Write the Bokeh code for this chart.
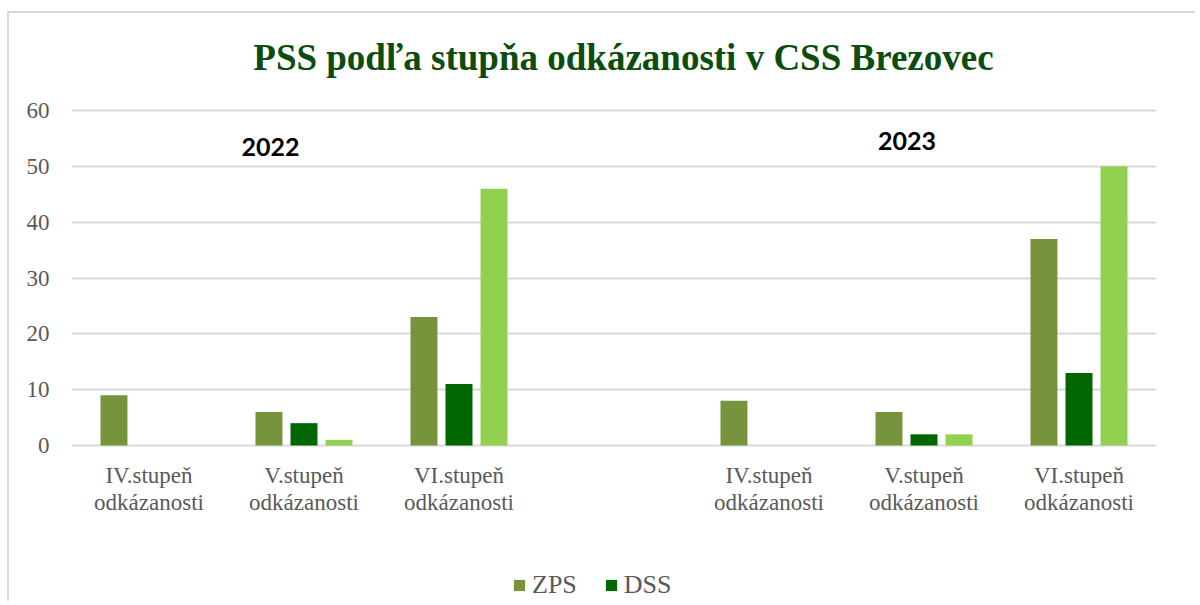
from bokeh.plotting import figure
from bokeh.models import FixedTicker, Label, Legend, LegendItem, Range1d
from bokeh.embed import file_html
from bokeh.resources import INLINE

# ---- data ----
title_text = "PSS podľa stupňa odkázanosti v CSS Brezovec"
grade_labels = ["IV.stupeň\nodkázanosti", "V.stupeň\nodkázanosti", "VI.stupeň\nodkázanosti"]
years = ["2022", "2023"]
zps_2022 = [9, 6, 23]
dss_2022 = [0, 4, 11]
third_2022 = [0, 1, 46]
zps_2023 = [8, 6, 37]
dss_2023 = [0, 2, 13]
third_2023 = [0, 2, 50]
y_ticks = [0, 10, 20, 30, 40, 50, 60]

ZPS_C = "#77933C"
DSS_C = "#006600"
THIRD_C = "#92D050"
TXT = "#595959"
SERIF = "Liberation Serif"

# slots: 3 groups for 2022, an empty slot, 3 groups for 2023
slots = [i + 0.5 for i in range(3)] + [i + 4.5 for i in range(3)]
zps = zps_2022 + zps_2023
dss = dss_2022 + dss_2023
third = third_2022 + third_2023

# layout (pixels): value axis spans 335 px for 0..60; the frame continues 97 px above 60
# (title area) and 155 px below 0 (category labels and legend)
Y_MAX = 60
PX = 335 / Y_MAX
y_top = Y_MAX + 97 / PX
y_min = -155 / PX

p = figure(width=1188, height=590, output_backend="svg", toolbar_location=None,
           x_range=Range1d(0, 7), y_range=Range1d(y_min, y_top),
           min_border_left=62, min_border_right=41, min_border_top=0, min_border_bottom=3)
p.styles = {"border-left": "2px solid #d9d9d9", "border-top": "2px solid #d9d9d9",
            "margin-top": "11px", "margin-left": "7px"}

p.outline_line_color = None
p.background_fill_color = "white"
p.border_fill_color = "white"

w = 0.174
off = 0.226
r1 = p.vbar(x=[s - off for s in slots], top=zps, width=w, fill_color=ZPS_C, line_color=None)
r2 = p.vbar(x=slots, top=dss, width=w, fill_color=DSS_C, line_color=None)
r3 = p.vbar(x=[s + off for s in slots], top=third, width=w, fill_color=THIRD_C, line_color=None)

# axes
p.xaxis.ticker = FixedTicker(ticks=slots)
p.xaxis.major_label_overrides = {s: lab for s, lab in zip(slots, grade_labels + grade_labels)}
p.xaxis.fixed_location = 0
p.yaxis.ticker = FixedTicker(ticks=y_ticks)
for ax in (p.xaxis, p.yaxis):
    ax.axis_line_color = None
    ax.major_tick_line_color = None
    ax.minor_tick_line_color = None
    ax.major_label_text_font = SERIF
    ax.major_label_text_font_size = "23px"
    ax.major_label_text_color = TXT
    ax.major_label_text_line_height = 1.08
p.yaxis.major_label_standoff = 16
p.xaxis.major_label_standoff = 11

p.xgrid.grid_line_color = None
p.ygrid.grid_line_color = "#d9d9d9"
p.ygrid.grid_line_width = 2

# chart title
p.add_layout(Label(x=3.561, y=69.5, text=title_text, text_font=SERIF, text_font_style="bold",
                   text_font_size="37px", text_color="#0B4D0E",
                   text_align="center", text_baseline="middle"))

# year labels
for yr, xx, yy in zip(years, [1.284, 5.39], [53.4, 54.6]):
    p.add_layout(Label(x=xx, y=yy, text=yr, text_font="Lato", text_font_style="bold",
                       text_font_size="25px", text_color="black",
                       text_align="center", text_baseline="middle"))

legend = Legend(items=[LegendItem(label="ZPS", renderers=[r1]),
                       LegendItem(label="DSS", renderers=[r2])],
                orientation="horizontal", location=(441, 0))
legend.label_text_font = SERIF
legend.label_text_font_size = "26px"
legend.label_text_color = TXT
legend.glyph_width = 14
legend.glyph_height = 14
legend.label_standoff = 6
legend.spacing = 27
legend.padding = 0
legend.margin = 0
legend.border_line_color = None
legend.background_fill_alpha = 0
p.add_layout(legend)

open("out.html", "w").write(file_html(p, INLINE))
